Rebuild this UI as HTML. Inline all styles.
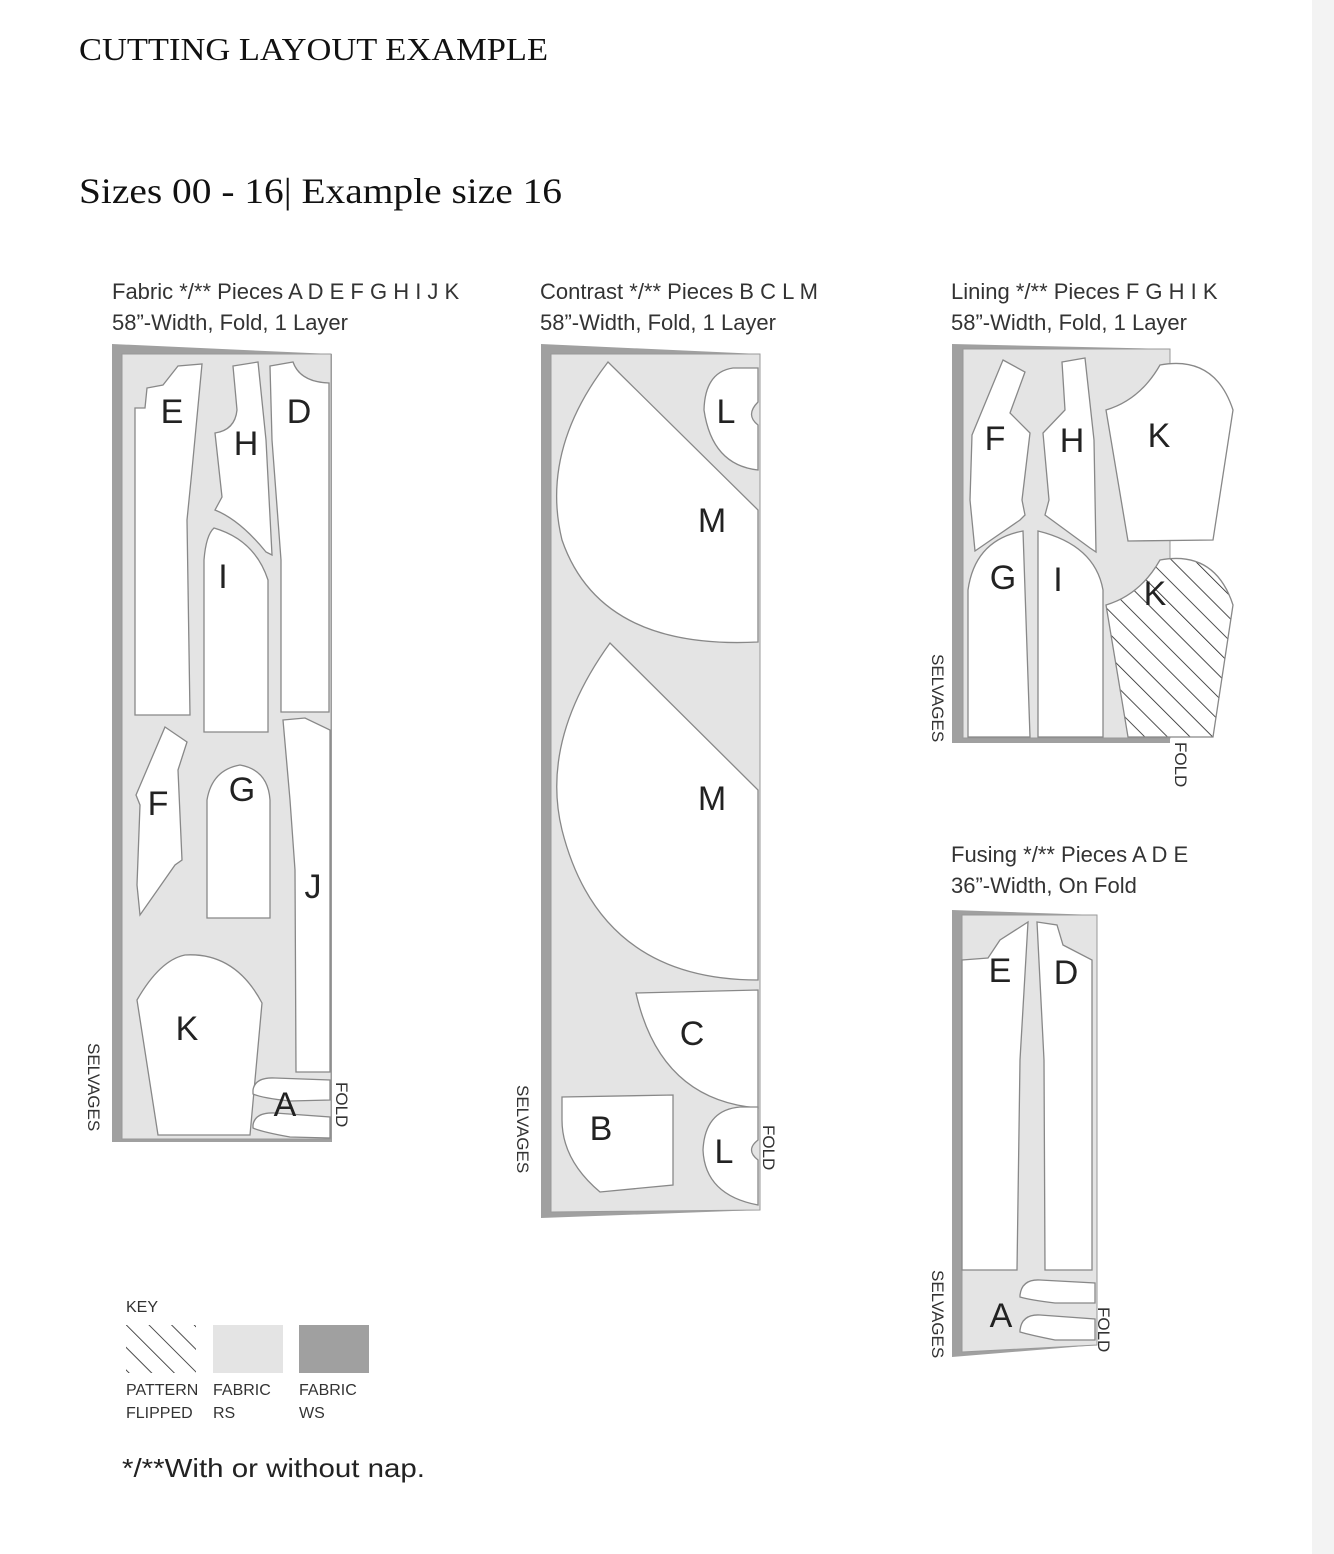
<!DOCTYPE html>
<html><head><meta charset="utf-8"><style>
html,body{margin:0;padding:0;background:#fff;}
body{width:1334px;height:1554px;position:relative;overflow:hidden;}
.strip{position:absolute;right:0;top:0;width:22px;height:1554px;background:#f3f3f3;}
svg{position:absolute;left:0;top:0;}
</style></head><body>
<div class="strip"></div>
<svg width="1334" height="1554" viewBox="0 0 1334 1554" xmlns="http://www.w3.org/2000/svg">
<defs>
<pattern id="hatch" patternUnits="userSpaceOnUse" width="16" height="16" patternTransform="rotate(-45)">
<rect width="16" height="16" fill="#fff"/><line x1="0" y1="0" x2="0" y2="16" stroke="#222" stroke-width="1.6"/>
</pattern>
</defs>
<g font-family="Liberation Serif, serif" fill="#111">
<text x="79" y="60" font-size="32" textLength="469" lengthAdjust="spacingAndGlyphs">CUTTING LAYOUT EXAMPLE</text>
<text x="79" y="203" font-size="36" textLength="483" lengthAdjust="spacingAndGlyphs">Sizes 00 - 16| Example size 16</text>
</g>
<g font-family="Liberation Sans, sans-serif" font-size="22" fill="#333">
<text x="112" y="299">Fabric */**  Pieces A D E F G H I J K</text>
<text x="112" y="330">58”-Width, Fold, 1 Layer</text>
<text x="540" y="299">Contrast */**  Pieces B C L M</text>
<text x="540" y="330">58”-Width, Fold, 1 Layer</text>
<text x="951" y="299">Lining */**  Pieces F G H I K</text>
<text x="951" y="330">58”-Width, Fold, 1 Layer</text>
<text x="951" y="862">Fusing */**  Pieces A D E</text>
<text x="951" y="893">36”-Width, On Fold</text>
</g>

<!-- FABRIC -->
<polygon points="112,344 332,354 332,1142 112,1142" fill="#a0a0a0"/>
<rect x="122" y="354" width="209" height="785" fill="#e4e4e4" stroke="#999" stroke-width="1"/>
<g fill="#fff" stroke="#888" stroke-width="1.3">
<polygon points="135,408 145,408 147,388 163,385 178,366 202,364 192,470 187,520 190,715 135,715"/>
<path d="M233,366 L258,362 L266,440 L272,555 L266,552 Q240,520 215,510 L222,497 L215,433 Q235,430 237,410 Z"/>
<path d="M270,366 L293,362 Q300,382 329,383 L329,712 L281,712 L281,560 L278,520 L272,440 Z"/>
<path d="M204,732 L204,560 Q206,535 214,528 Q255,540 268,580 L268,732 Z"/>
<polygon points="165,727 187,742 178,770 182,860 175,865 140,915 137,885 140,805 136,795"/>
<path d="M207,918 L207,800 Q212,770 240,765 Q268,770 270,800 L270,918 Z"/>
<polygon points="283,720 305,718 330,730 330,1072 296,1072 295,870 290,800"/>
<path d="M137,1000 Q160,960 185,955 Q235,952 262,1003 L250,1135 L158,1135 Z"/>
<path d="M253,1090 Q255,1077 275,1078 L330,1080 L330,1100 L290,1101 Q262,1098 253,1094 Z"/>
<path d="M253,1125 Q255,1112 275,1113 L330,1117 L330,1138 L290,1137 Q262,1132 253,1128 Z"/>
</g>

<!-- CONTRAST -->
<polygon points="541,344 760,354 760,1210 541,1218" fill="#a0a0a0"/>
<polygon points="551,354 760,354 760,1210 551,1212" fill="#e4e4e4" stroke="#999"/>
<g fill="#fff" stroke="#888" stroke-width="1.3">
<path d="M608,362 Q540,450 562,540 Q600,650 758,642 L758,510 Z"/>
<path d="M610,643 Q540,740 562,830 Q600,980 758,980 L758,790 Z"/>
<path d="M758,368 L733,368 Q705,372 704,410 Q712,465 758,470 L758,425 Q745,415 758,402 Z"/>
<path d="M636,993 L758,990 L758,1108 Q660,1100 636,993 Z"/>
<path d="M562,1097 L673,1095 L673,1185 L600,1192 Q562,1160 562,1120 Z"/>
<path d="M758,1107 L740,1107 Q705,1110 703,1150 Q705,1195 758,1205 L758,1160 Q745,1150 758,1140 Z"/>
</g>

<!-- LINING -->
<polygon points="952,344 1170,349 1170,743 952,743" fill="#a0a0a0"/>
<rect x="963" y="349" width="207" height="389" fill="#e4e4e4" stroke="#999"/>
<g fill="#fff" stroke="#888" stroke-width="1.3">
<polygon points="1003,360 1025,372 1010,413 1030,433 1022,500 1025,515 1020,520 975,551 970,500 972,435"/>
<polygon points="1062,362 1085,358 1094,440 1096,552 1090,548 1045,515 1049,500 1043,433 1065,410"/>
<path d="M968,737 L968,590 Q975,540 1023,531 L1030,737 Z"/>
<path d="M1038,737 L1038,531 Q1095,545 1103,590 L1103,737 Z"/>
<path d="M1106,410 Q1140,400 1160,365 Q1215,355 1233,410 L1213,540 L1128,541 Z"/>
<path d="M1106,605 Q1140,595 1160,560 Q1215,550 1233,605 L1213,737 L1128,737 Z" fill="url(#hatch)"/>
</g>

<!-- FUSING -->
<polygon points="952,910 1097,915 1097,1345 952,1357" fill="#a0a0a0"/>
<polygon points="962,915 1097,915 1097,1345 962,1352" fill="#e4e4e4" stroke="#999"/>
<g fill="#fff" stroke="#888" stroke-width="1.3">
<polygon points="962,960 988,958 1000,940 1028,922 1020,1060 1017,1270 962,1270"/>
<polygon points="1037,922 1057,925 1063,945 1092,960 1092,1270 1045,1270 1044,1060"/>
<path d="M1020,1295 Q1022,1279 1040,1280 L1095,1283 L1095,1303 L1055,1303 Q1030,1300 1020,1297 Z"/>
<path d="M1020,1330 Q1022,1314 1040,1315 L1095,1319 L1095,1340 L1055,1340 Q1030,1335 1020,1332 Z"/>
</g>

<!-- piece letters -->
<g font-family="Liberation Sans, sans-serif" font-size="34" fill="#222" text-anchor="middle">
<text x="172" y="423">E</text><text x="246" y="455">H</text><text x="299" y="423">D</text>
<text x="223" y="588">I</text><text x="158" y="815">F</text><text x="242" y="801">G</text>
<text x="313" y="898">J</text><text x="187" y="1040">K</text><text x="285" y="1116">A</text>
<text x="726" y="423">L</text><text x="712" y="532">M</text><text x="712" y="810">M</text>
<text x="692" y="1045">C</text><text x="601" y="1140">B</text><text x="724" y="1163">L</text>
<text x="995" y="450">F</text><text x="1072" y="452">H</text><text x="1159" y="447">K</text>
<text x="1003" y="589">G</text><text x="1058" y="591">I</text><text x="1155" y="605">K</text>
<text x="1000" y="982">E</text><text x="1066" y="984">D</text><text x="1001" y="1327">A</text>
</g>

<!-- rotated labels -->
<g font-family="Liberation Sans, sans-serif" font-size="17" fill="#333">
<text transform="translate(88,1043) rotate(90)">SELVAGES</text>
<text transform="translate(336,1082) rotate(90)">FOLD</text>
<text transform="translate(517,1085) rotate(90)">SELVAGES</text>
<text transform="translate(763,1125) rotate(90)">FOLD</text>
<text transform="translate(932,654) rotate(90)">SELVAGES</text>
<text transform="translate(1175,742) rotate(90)">FOLD</text>
<text transform="translate(932,1270) rotate(90)">SELVAGES</text>
<text transform="translate(1098,1307) rotate(90)">FOLD</text>
</g>

<!-- KEY -->
<g font-family="Liberation Sans, sans-serif" font-size="16" fill="#333">
<text x="126" y="1312">KEY</text>
<rect x="126" y="1325" width="70" height="48" fill="url(#hatch)"/>
<rect x="213" y="1325" width="70" height="48" fill="#e4e4e4"/>
<rect x="299" y="1325" width="70" height="48" fill="#a0a0a0"/>
<text x="126" y="1395">PATTERN</text><text x="126" y="1418">FLIPPED</text>
<text x="213" y="1395">FABRIC</text><text x="213" y="1418">RS</text>
<text x="299" y="1395">FABRIC</text><text x="299" y="1418">WS</text>
<text x="122" y="1477" font-size="26" fill="#222" textLength="303" lengthAdjust="spacingAndGlyphs">*/**With or without nap.</text>
</g>
</svg>
</body></html>
